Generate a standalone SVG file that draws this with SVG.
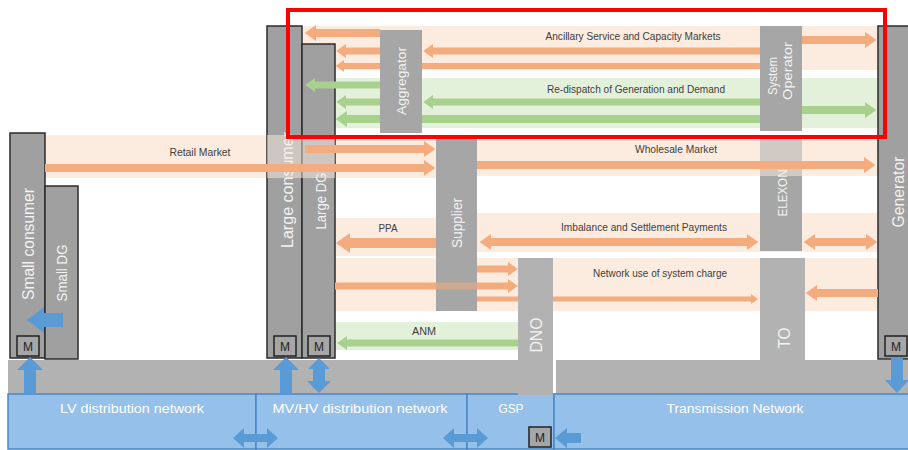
<svg xmlns="http://www.w3.org/2000/svg" width="908" height="450" viewBox="0 0 908 450">
<defs>
<marker id="mo" viewBox="0 0 10 10" refX="0" refY="5" markerWidth="1.4" markerHeight="2" orient="auto-start-reverse" preserveAspectRatio="none" markerUnits="strokeWidth"><path d="M0,0L10,5L0,10z" fill="#f4ac7e"/></marker>
<marker id="mg" viewBox="0 0 10 10" refX="0" refY="5" markerWidth="1.4" markerHeight="2" orient="auto-start-reverse" preserveAspectRatio="none" markerUnits="strokeWidth"><path d="M0,0L10,5L0,10z" fill="#a8d18d"/></marker>
<style>
.box{fill:#a0a0a0;stroke:#2b2b2b;stroke-width:1.5}
.col{fill:#a6a6a6}
.colb{fill:#b2b2b2}
.bo{fill:#fcebdf}
.bg{fill:#e4f1da}
.ov{fill:#fcebdf;opacity:.5}
.mb{fill:#a6a6a6;stroke:#222;stroke-width:1.5}
.mt{font-family:"Liberation Sans",Arial,sans-serif;font-size:12px;fill:#222;text-anchor:middle}
.lbl{font-family:"Liberation Sans",Arial,sans-serif;font-size:11px;fill:#404040;text-anchor:middle}
.vl{font-family:"Liberation Sans",Arial,sans-serif;fill:#f2f2f2;text-anchor:middle}
.net{font-family:"Liberation Sans",Arial,sans-serif;font-size:13.5px;fill:#ffffff;text-anchor:middle}
.nb{fill:#95c0ea;stroke:#4a86c5;stroke-width:1.5}
.ao{stroke:#f4ac7e;fill:none;marker-end:url(#mo)}
.ad{stroke:#f4ac7e;fill:none;marker-end:url(#mo);marker-start:url(#mo)}
.ag{stroke:#a8d18d;fill:none;marker-end:url(#mg)}
.ab{fill:#5b9bd5}
</style>
</defs>
<rect width="908" height="450" fill="#ffffff"/>
<g id="market-bands">
<rect class="bo" x="303" y="26" width="575" height="44"/>
<rect class="bg" x="303" y="78" width="575" height="50"/>
<rect class="bo" x="45" y="135" width="391" height="43"/>
<rect class="bo" x="477" y="139" width="401" height="37"/>
<rect class="bo" x="335" y="218" width="101" height="38"/>
<rect class="bo" x="477" y="213" width="401" height="39"/>
<rect class="bo" x="335" y="258" width="543" height="53"/>
<rect class="bg" x="335" y="322" width="183" height="28"/>
</g>
<g id="ground-band">
<rect class="colb" x="8" y="360" width="545" height="35"/>
<rect class="colb" x="556" y="360" width="352" height="35"/>
</g>
<g id="lv-network"><rect class="nb" x="8" y="394" width="248" height="55"/><text class="net" x="132" y="413" textLength="144" lengthAdjust="spacingAndGlyphs">LV distribution network</text></g>
<g id="mvhv-network"><rect class="nb" x="256" y="394" width="211" height="55"/><text class="net" x="360" y="413" textLength="175" lengthAdjust="spacingAndGlyphs">MV/HV distribution network</text></g>
<g id="gsp"><rect class="nb" x="467" y="394" width="87" height="55"/><text class="net" x="511" y="413" textLength="25" lengthAdjust="spacingAndGlyphs">GSP</text><rect class="mb" x="529" y="427" width="22" height="20"/><text class="mt" x="540" y="442">M</text></g>
<g id="transmission-network"><rect class="nb" x="554" y="394" width="356" height="55"/><text class="net" x="735" y="413" textLength="137" lengthAdjust="spacingAndGlyphs">Transmission Network</text></g>
<g id="small-consumer"><rect class="box" x="10" y="133" width="35" height="225"/><text class="vl" font-size="16" transform="translate(34,244) rotate(-90)" textLength="112" lengthAdjust="spacingAndGlyphs">Small consumer</text><rect class="mb" x="17" y="336" width="22" height="20"/><text class="mt" x="28" y="351">M</text></g>
<g id="small-dg"><rect class="box" x="45" y="186" width="33" height="173"/><text class="vl" font-size="14" transform="translate(67,273) rotate(-90)" textLength="57" lengthAdjust="spacingAndGlyphs">Small DG</text></g>
<g id="large-consumer"><rect class="box" x="267" y="26" width="35" height="332"/><text class="vl" font-size="16" transform="translate(293,190) rotate(-90)" textLength="116" lengthAdjust="spacingAndGlyphs">Large consumer</text><rect class="mb" x="274" y="336" width="22" height="20"/><text class="mt" x="285" y="351">M</text></g>
<g id="large-dg"><rect class="box" x="302" y="44" width="33" height="314"/><text class="vl" font-size="14" transform="translate(326,201) rotate(-90)" textLength="57" lengthAdjust="spacingAndGlyphs">Large DG</text><rect class="mb" x="308" y="336" width="22" height="20"/><text class="mt" x="319" y="351">M</text></g>
<g id="generator"><rect class="box" x="878" y="26" width="34" height="333"/><text class="vl" font-size="16.5" transform="translate(904,192) rotate(-90)" textLength="71" lengthAdjust="spacingAndGlyphs">Generator</text><rect class="mb" x="885" y="336" width="22" height="20"/><text class="mt" x="896" y="351">M</text></g>
<g id="elexon"><rect class="col" x="760" y="138" width="42" height="113"/><text class="vl" font-size="13" transform="translate(787,193) rotate(-90)" textLength="47" lengthAdjust="spacingAndGlyphs">ELEXON</text></g>
<g id="band-overlays">
<rect class="ov" x="267" y="135" width="68" height="43"/>
<rect class="ov" x="760" y="139" width="42" height="37"/>
</g>
<g id="connectors">
<line class="ao" x1="380" y1="33" x2="316" y2="33" stroke-width="8"/>
<line class="ao" x1="380" y1="51" x2="346" y2="51" stroke-width="7"/>
<line class="ao" x1="760" y1="51" x2="433" y2="51" stroke-width="7"/>
<line class="ao" x1="760" y1="66" x2="344" y2="66" stroke-width="6"/>
<line class="ao" x1="802" y1="40" x2="865" y2="40" stroke-width="8"/>
<line class="ag" x1="380" y1="85" x2="315" y2="85" stroke-width="7"/>
<line class="ag" x1="380" y1="102" x2="346" y2="102" stroke-width="7"/>
<line class="ag" x1="760" y1="102" x2="433" y2="102" stroke-width="7"/>
<line class="ag" x1="760" y1="119" x2="347" y2="119" stroke-width="8"/>
<line class="ag" x1="802" y1="110" x2="865" y2="110" stroke-width="8"/>
<line class="ao" x1="305" y1="149" x2="424" y2="149" stroke-width="8"/>
<line class="ao" x1="45" y1="168" x2="424" y2="168" stroke-width="8"/>
<line class="ao" x1="477" y1="165" x2="864" y2="165" stroke-width="8"/>
<line class="ao" x1="436" y1="243" x2="350" y2="243" stroke-width="10"/>
<line class="ad" x1="491" y1="242" x2="747" y2="242" stroke-width="8"/>
<line class="ad" x1="815" y1="242" x2="866" y2="242" stroke-width="8"/>
<line class="ao" x1="477" y1="269" x2="508" y2="269" stroke-width="7"/>
<line class="ao" x1="477" y1="299" x2="751" y2="299" stroke-width="5"/>
<line class="ao" x1="878" y1="293" x2="817" y2="293" stroke-width="8"/>
<line class="ag" x1="518" y1="343" x2="347" y2="343" stroke-width="7"/>
<polygon class="ab" points="63,313 44,313 44,307 27,320 44,333 44,327 63,327"/>
<polygon class="ab" points="24,394 24,370 17,370 30,357 43,370 36,370 36,394"/>
<polygon class="ab" points="280,394 280,370 273,370 286,357 299,370 292,370 292,394"/>
<polygon class="ab" points="319,358 330,369 325,369 325,381 331,381 319,393 307,381 313,381 313,369 308,369"/>
<polygon class="ab" points="891,357 903,357 903,380 909,380 897,393 885,380 891,380"/>
<polygon class="ab" points="233,438 244,428 244,434 267,434 267,428 278,438 267,448 267,442 244,442 244,448"/>
<polygon class="ab" points="443,438 454,428 454,434 477,434 477,428 488,438 477,448 477,442 454,442 454,448"/>
<polygon class="ab" points="555,438 567,428 567,433 581,433 581,443 567,443 567,448"/>
</g>
<g id="aggregator"><rect class="col" x="380" y="30" width="42" height="103"/><text class="vl" font-size="13.5" transform="translate(406,81) rotate(-90)" textLength="68" lengthAdjust="spacingAndGlyphs">Aggregator</text></g>
<g id="system-operator"><rect class="col" x="760" y="26" width="42" height="105"/><text class="vl" font-size="13" transform="translate(777,76) rotate(-90)" textLength="38" lengthAdjust="spacingAndGlyphs">System</text><text class="vl" font-size="13" transform="translate(792,71) rotate(-90)" textLength="58" lengthAdjust="spacingAndGlyphs">Operator</text></g>
<g id="supplier"><rect class="col" x="436" y="139" width="41" height="172"/><text class="vl" font-size="14" transform="translate(462,223) rotate(-90)" textLength="50" lengthAdjust="spacingAndGlyphs">Supplier</text></g>
<g id="dno"><rect class="colb" x="518" y="258" width="35" height="137"/><text class="vl" font-size="16" transform="translate(542,335) rotate(-90)" textLength="35" lengthAdjust="spacingAndGlyphs">DNO</text></g>
<g id="to"><rect class="colb" x="760" y="258" width="45" height="103"/><text class="vl" font-size="16" transform="translate(790,338) rotate(-90)" textLength="21" lengthAdjust="spacingAndGlyphs">TO</text></g>
<g id="connectors-over">
<line class="ao" x1="335" y1="286" x2="508" y2="286" stroke-width="7"/>
<rect x="436" y="282" width="41" height="8" fill="#a6a6a6" opacity=".45"/>
</g>
<g id="labels">
<text class="lbl" x="633" y="40" textLength="175" lengthAdjust="spacingAndGlyphs">Ancillary Service and Capacity Markets</text>
<text class="lbl" x="636" y="93" textLength="178" lengthAdjust="spacingAndGlyphs">Re-dispatch of Generation and Demand</text>
<text class="lbl" x="200" y="156" textLength="61" lengthAdjust="spacingAndGlyphs">Retail Market</text>
<text class="lbl" x="676" y="153" textLength="82" lengthAdjust="spacingAndGlyphs">Wholesale Market</text>
<text class="lbl" x="388" y="232" textLength="19" lengthAdjust="spacingAndGlyphs">PPA</text>
<text class="lbl" x="644" y="231" textLength="166" lengthAdjust="spacingAndGlyphs">Imbalance and Settlement Payments</text>
<text class="lbl" x="660" y="277" textLength="134" lengthAdjust="spacingAndGlyphs">Network use of system charge</text>
<text class="lbl" x="424" y="335" textLength="24" lengthAdjust="spacingAndGlyphs">ANM</text>
</g>
<rect id="highlight" x="288" y="10" width="597" height="127" fill="none" stroke="#ff0000" stroke-width="4"/>
</svg>
